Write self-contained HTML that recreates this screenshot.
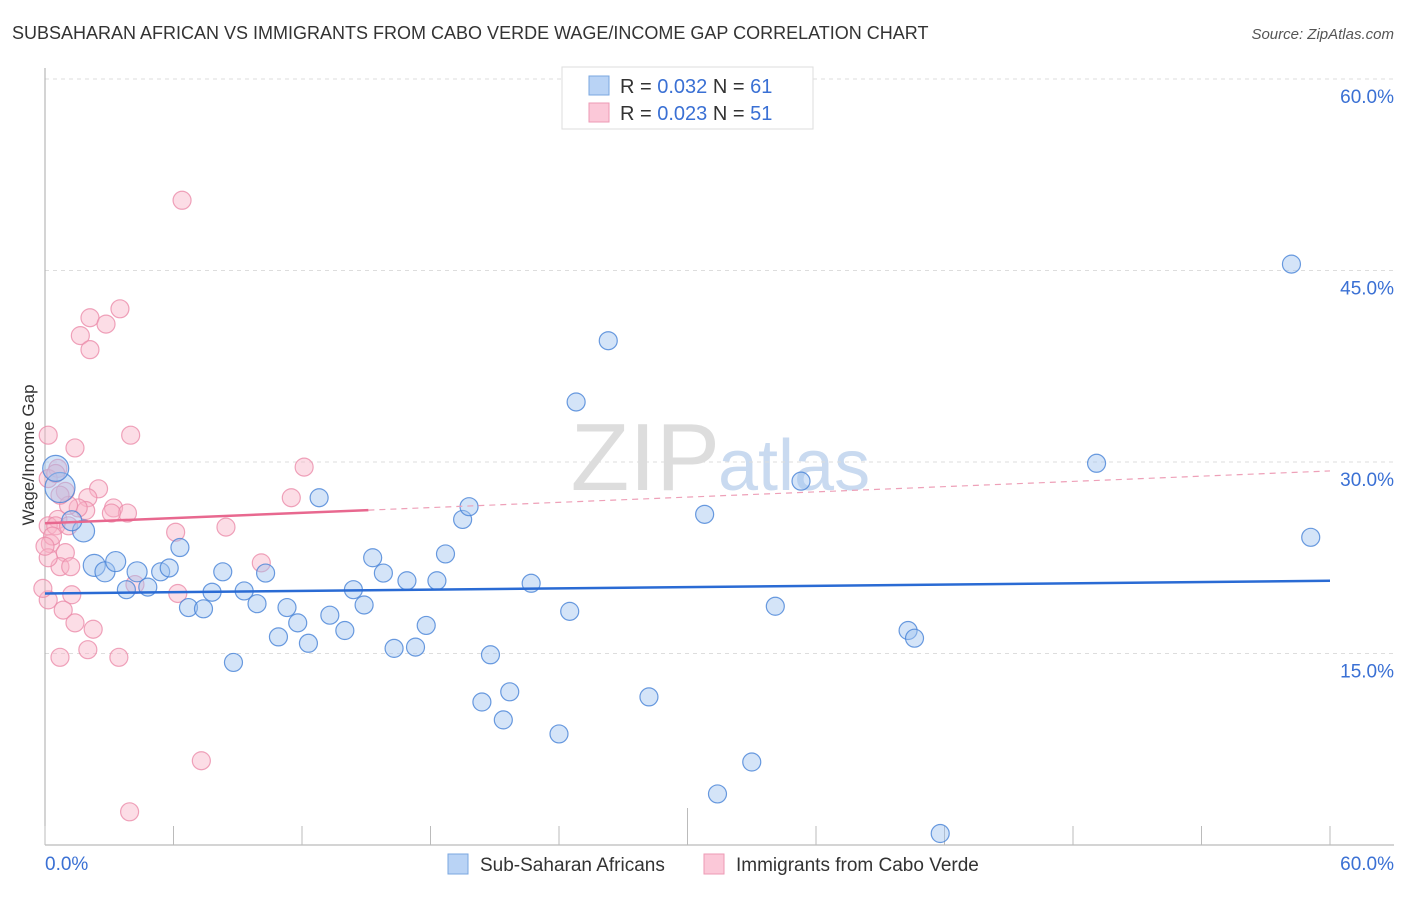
<!DOCTYPE html>
<html><head><meta charset="utf-8"><style>
body{margin:0;background:#fff;font-family:"Liberation Sans",sans-serif}
svg text{font-family:"Liberation Sans",sans-serif}
</style></head><body>
<svg id="c" width="1406" height="892" xmlns="http://www.w3.org/2000/svg">
<text x="12" y="39" font-size="18" fill="#333">SUBSAHARAN AFRICAN VS IMMIGRANTS FROM CABO VERDE WAGE/INCOME GAP CORRELATION CHART</text>
<text x="1394" y="39" font-size="15" fill="#555" font-style="italic" text-anchor="end">Source: ZipAtlas.com</text>
<text x="720" y="490" font-size="96" fill="#ddd" text-anchor="end" font-family="Liberation Serif">ZIP</text>
<text x="718" y="490" font-size="72" fill="#c9daf0">atlas</text>
<text transform="translate(34,455) rotate(-90)" font-size="17" fill="#333" text-anchor="middle">Wage/Income Gap</text>
<g id="grid"></g><g id="ticks"></g><g id="pts"></g><g id="trend"></g>
<g>
<rect x="562" y="67" width="251" height="62" fill="#fff" stroke="#ddd"/>
<rect x="589" y="76" width="20" height="19" fill="#b9d3f5" stroke="#7aa7e0"/>
<rect x="589" y="103" width="20" height="19" fill="#fbc8d8" stroke="#ee9ab5"/>
<text x="620" y="93" font-size="20" fill="#333">R = <tspan fill="#3a70d4">0.032</tspan>   N = <tspan fill="#3a70d4">61</tspan></text>
<text x="620" y="120" font-size="20" fill="#333">R = <tspan fill="#3a70d4">0.023</tspan>   N = <tspan fill="#3a70d4">51</tspan></text>
</g>
<g>
<rect x="448" y="854" width="20" height="20" fill="#b9d3f5" stroke="#7aa7e0"/>
<text x="480" y="871" font-size="19" fill="#333">Sub-Saharan Africans</text>
<rect x="704" y="854" width="20" height="20" fill="#fbc8d8" stroke="#ee9ab5"/>
<text x="736" y="871" font-size="19" fill="#333">Immigrants from Cabo Verde</text>
</g>
<text x="45" y="870" font-size="19" fill="#3a70d4">0.0%</text>
<text x="1394" y="870" font-size="19" fill="#3a70d4" text-anchor="end">60.0%</text>
</svg>
<script>
const yTicks=[15,30,45,60];
const yTickLabels=["15.0%","30.0%","45.0%","60.0%"];
const xTicks=[0,6,12,18,24,30,36,42,48,54,60];
const blueX=[0.7,0.5,1.8,1.25,2.3,2.8,3.3,3.8,4.3,4.8,5.4,5.8,6.3,6.7,7.4,7.8,8.3,8.8,9.3,9.9,10.3,10.9,11.3,11.8,12.3,12.8,13.3,14.0,14.4,14.9,15.3,15.8,16.3,16.9,17.3,17.8,18.3,18.7,19.5,19.8,20.4,20.8,21.4,21.7,22.7,24.0,24.5,24.8,26.3,28.2,30.8,33.0,31.4,34.1,35.3,40.3,40.6,41.8,49.1,58.2,59.1];
const blueY=[28.0,29.5,24.6,25.4,21.9,21.4,22.2,20.0,21.4,20.2,21.4,21.7,23.3,18.6,18.5,19.8,21.4,14.3,19.9,18.9,21.3,16.3,18.6,17.4,15.8,27.2,18.0,16.8,20.0,18.8,22.5,21.3,15.4,20.7,15.5,17.2,20.7,22.8,25.5,26.5,11.2,14.9,9.8,12.0,20.5,8.7,18.3,34.7,39.5,11.6,25.9,6.5,4.0,18.7,28.5,16.8,16.2,0.9,29.9,45.5,24.1];
const pinkX=[6.4,3.5,2.1,2.85,1.65,2.1,0.15,1.4,4.0,0.6,12.1,0.95,0.15,11.5,2.5,2.0,1.9,1.55,3.2,3.85,3.1,0.6,0.15,0.5,1.1,6.1,8.45,0.25,0.95,10.1,0.7,1.2,0.15,4.2,6.2,1.25,0.15,0.85,1.4,2.25,0.7,2.0,3.45,7.3,3.95,0.35,1.1,0.5,0.0,0.7,-0.1];
const pinkY=[50.5,42.0,41.3,40.8,39.9,38.8,32.1,31.1,32.1,29.5,29.6,27.7,28.7,27.2,27.9,27.2,26.2,26.4,26.4,26.0,26.0,25.5,25.0,25.0,25.0,24.5,24.9,23.6,22.9,22.1,21.8,21.8,22.5,20.4,19.7,19.6,19.2,18.4,17.4,16.9,14.7,15.3,14.7,6.6,2.6,24.2,26.6,29.1,23.4,27.4,20.1];
const blueR=[15,13,11,10,11,10,10,9,10,9,9,9,9,9,9,9,9,9,9,9,9,9,9,9,9,9,9,9,9,9,9,9,9,9,9,9,9,9,9,9,9,9,9,9,9,9,9,9,9,9,9,9,9,9,9,9,9,9,9,9,9];
const blueLine=[19.7,20.7];
const pinkLine=[25.2,29.3];
const pinkSolidEnd=15.1;
const NS="http://www.w3.org/2000/svg";
const X=v=>45+v*1285/60, Y=v=>845-v*766/60;
function mk(t,a,p){const e=document.createElementNS(NS,t);for(const k in a)e.setAttribute(k,a[k]);document.getElementById(p).appendChild(e);return e;}
yTicks.forEach((t,i)=>{
 const l=mk('line',{x1:45,x2:1394,y1:Y(t),y2:Y(t),stroke:'#ddd','stroke-dasharray':'4,4'},'grid');
 
 
 const tx=mk('text',{x:1394,y:Y(t)+24,'font-size':19,fill:'#3a70d4','text-anchor':'end'},'grid');
 tx.textContent=yTickLabels[i];
 
 
});
mk('line',{x1:45,x2:45,y1:68,y2:845,stroke:'#aaa'},'ticks');
mk('line',{x1:45,x2:1394,y1:845,y2:845,stroke:'#aaa'},'ticks');
xTicks.forEach((t,i)=>{
 const l=mk('line',{x1:X(t),x2:X(t),y1:845,y2:(i==5?808:826),stroke:'#bbb'},'ticks');
 
 
});
pinkX.forEach((v,i)=>{
 const c=mk('circle',{cx:X(v),cy:Y(pinkY[i]),r:9,fill:'rgba(248,180,200,0.45)',stroke:'rgba(235,140,170,0.8)','stroke-width':1.2},'pts');
 
 
});
blueX.forEach((v,i)=>{
 const c=mk('circle',{cx:X(v),cy:Y(blueY[i]),r:blueR[i],fill:'rgba(160,195,240,0.45)',stroke:'rgba(70,130,215,0.8)','stroke-width':1.2},'pts');
 
 
});
const bl=mk('line',{x1:X(0),x2:X(60),y1:Y(blueLine[0]),y2:Y(blueLine[1]),stroke:'#2a6bd4','stroke-width':2.5},'trend');


const py=v=>pinkLine[0]+(pinkLine[1]-pinkLine[0])*v/60;
const ps=mk('line',{x1:X(0),x2:X(pinkSolidEnd),y1:Y(py(0)),y2:Y(py(pinkSolidEnd)),stroke:'#e8688f','stroke-width':2.5},'trend');


const pd=mk('line',{x1:X(pinkSolidEnd),x2:X(60),y1:Y(py(pinkSolidEnd)),y2:Y(py(60)),stroke:'#eea0b8','stroke-width':1.2,'stroke-dasharray':'6,5'},'trend');


</script>
</body></html>
